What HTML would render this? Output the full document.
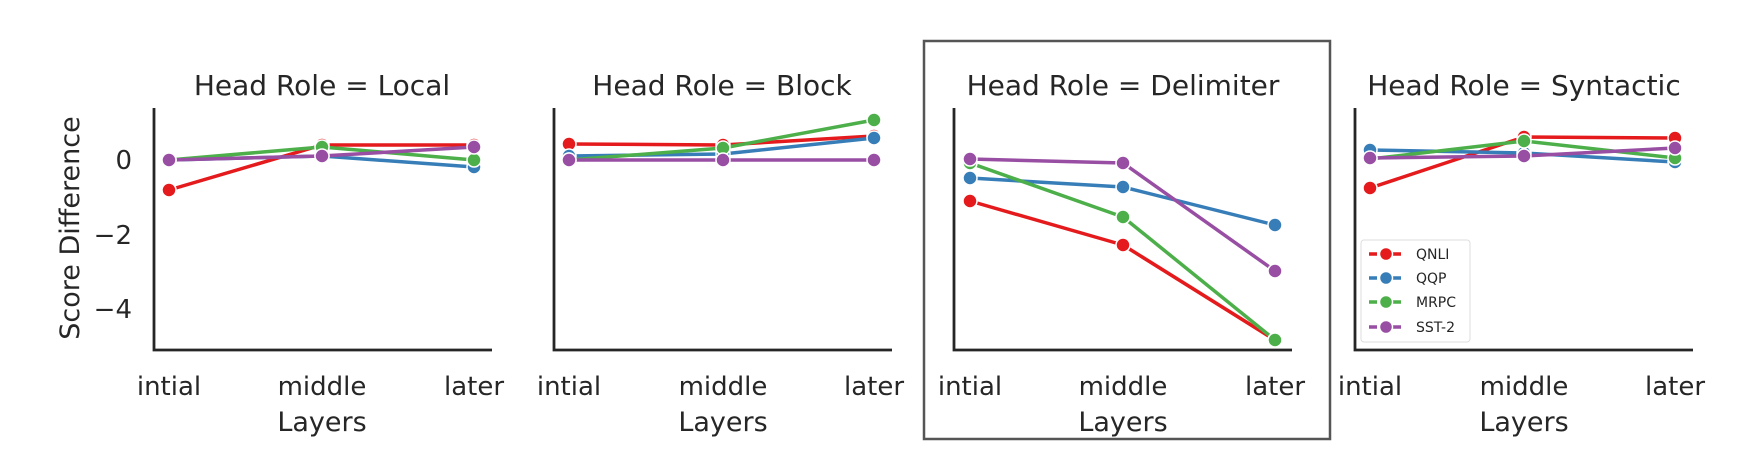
<!DOCTYPE html>
<html><head><meta charset="utf-8"><style>
html,body{margin:0;padding:0;background:#fff;}
svg text{font-family:"DejaVu Sans","Liberation Sans",sans-serif;fill:#262626;}
</style></head><body>
<svg width="1744" height="464" viewBox="0 0 1744 464" xmlns="http://www.w3.org/2000/svg">
<rect x="924" y="41" width="406" height="398" fill="none" stroke="#555" stroke-width="2.5"/>
<g font-size="28" text-anchor="middle">
<text x="322" y="95">Head Role = Local</text>
<text x="722" y="95">Head Role = Block</text>
<text x="1123" y="95">Head Role = Delimiter</text>
<text x="1524" y="95">Head Role = Syntactic</text>
</g>
<g stroke="#262626" stroke-width="2.8" fill="none">
<path d="M154 108V350H492"/>
<path d="M554 108V350H892"/>
<path d="M954 108V350H1292"/>
<path d="M1355 108V350H1693"/>
</g>
<g font-size="26" text-anchor="end">
<text x="132" y="169">0</text>
<text x="132" y="244">−2</text>
<text x="132" y="318">−4</text>
</g>
<text x="0" y="0" font-size="27" text-anchor="middle" transform="translate(79,228) rotate(-90)">Score Difference</text>
<g font-size="26" text-anchor="middle">
<text x="169" y="395">intial</text><text x="322" y="395">middle</text><text x="474" y="395">later</text>
<text x="569" y="395">intial</text><text x="723" y="395">middle</text><text x="874" y="395">later</text>
<text x="970" y="395">intial</text><text x="1123" y="395">middle</text><text x="1275" y="395">later</text>
<text x="1370" y="395">intial</text><text x="1524" y="395">middle</text><text x="1675" y="395">later</text>
</g>
<g font-size="27" text-anchor="middle">
<text x="322" y="431">Layers</text><text x="723" y="431">Layers</text><text x="1123" y="431">Layers</text><text x="1524" y="431">Layers</text>
</g>
<g stroke-width="3.5" fill="none" stroke-linejoin="round">
<polyline stroke="#e41a1c" points="169,190 322,145 474,145"/>
<polyline stroke="#377eb8" points="169,160 322,156 474,167"/>
<polyline stroke="#4daf4a" points="169,160 322,147 474,160"/>
<polyline stroke="#984ea3" points="169,160 322,156 474,147"/>
<polyline stroke="#e41a1c" points="569,144 723,145 874,136"/>
<polyline stroke="#377eb8" points="569,156 723,154 874,138"/>
<polyline stroke="#4daf4a" points="569,160 723,148 874,120"/>
<polyline stroke="#984ea3" points="569,160 723,160 874,160"/>
<polyline stroke="#e41a1c" points="970,201 1123,245 1275,340"/>
<polyline stroke="#377eb8" points="970,178 1123,187 1275,225"/>
<polyline stroke="#4daf4a" points="970,163 1123,217 1275,340"/>
<polyline stroke="#984ea3" points="970,159 1123,163 1275,271"/>
<polyline stroke="#e41a1c" points="1370,188 1524,137 1675,138"/>
<polyline stroke="#377eb8" points="1370,150 1524,153 1675,162"/>
<polyline stroke="#4daf4a" points="1370,159 1524,141 1675,158"/>
<polyline stroke="#984ea3" points="1370,158 1524,156 1675,148"/>
</g>
<g stroke="#fff" stroke-width="1.5">
<g fill="#e41a1c"><circle cx="169" cy="190" r="7"/><circle cx="322" cy="145" r="7"/><circle cx="474" cy="145" r="7"/>
<circle cx="569" cy="144" r="7"/><circle cx="723" cy="145" r="7"/><circle cx="874" cy="136" r="7"/>
<circle cx="970" cy="201" r="7"/><circle cx="1123" cy="245" r="7"/><circle cx="1275" cy="340" r="7"/>
<circle cx="1370" cy="188" r="7"/><circle cx="1524" cy="137" r="7"/><circle cx="1675" cy="138" r="7"/></g>
<g fill="#377eb8"><circle cx="169" cy="160" r="7"/><circle cx="322" cy="156" r="7"/><circle cx="474" cy="167" r="7"/>
<circle cx="569" cy="156" r="7"/><circle cx="723" cy="154" r="7"/><circle cx="874" cy="138" r="7"/>
<circle cx="970" cy="178" r="7"/><circle cx="1123" cy="187" r="7"/><circle cx="1275" cy="225" r="7"/>
<circle cx="1370" cy="150" r="7"/><circle cx="1524" cy="153" r="7"/><circle cx="1675" cy="162" r="7"/></g>
<g fill="#4daf4a"><circle cx="169" cy="160" r="7"/><circle cx="322" cy="147" r="7"/><circle cx="474" cy="160" r="7"/>
<circle cx="569" cy="160" r="7"/><circle cx="723" cy="148" r="7"/><circle cx="874" cy="120" r="7"/>
<circle cx="970" cy="163" r="7"/><circle cx="1123" cy="217" r="7"/><circle cx="1275" cy="340" r="7"/>
<circle cx="1370" cy="159" r="7"/><circle cx="1524" cy="141" r="7"/><circle cx="1675" cy="158" r="7"/></g>
<g fill="#984ea3"><circle cx="169" cy="160" r="7"/><circle cx="322" cy="156" r="7"/><circle cx="474" cy="147" r="7"/>
<circle cx="569" cy="160" r="7"/><circle cx="723" cy="160" r="7"/><circle cx="874" cy="160" r="7"/>
<circle cx="970" cy="159" r="7"/><circle cx="1123" cy="163" r="7"/><circle cx="1275" cy="271" r="7"/>
<circle cx="1370" cy="158" r="7"/><circle cx="1524" cy="156" r="7"/><circle cx="1675" cy="148" r="7"/></g>
</g>
<rect x="1361" y="240" width="109" height="102" rx="3" fill="#fff" stroke="#ddd" stroke-width="1"/>
<g stroke-width="3.5" stroke-dasharray="8,4">
<line x1="1369" y1="254" x2="1403" y2="254" stroke="#e41a1c"/>
<line x1="1369" y1="278" x2="1403" y2="278" stroke="#377eb8"/>
<line x1="1369" y1="302" x2="1403" y2="302" stroke="#4daf4a"/>
<line x1="1369" y1="327" x2="1403" y2="327" stroke="#984ea3"/>
</g>
<g stroke="#fff" stroke-width="1.5">
<circle cx="1386" cy="254" r="6.5" fill="#e41a1c"/>
<circle cx="1386" cy="278" r="6.5" fill="#377eb8"/>
<circle cx="1386" cy="302" r="6.5" fill="#4daf4a"/>
<circle cx="1386" cy="327" r="6.5" fill="#984ea3"/>
</g>
<g font-size="14">
<text x="1416" y="259">QNLI</text>
<text x="1416" y="283">QQP</text>
<text x="1416" y="307">MRPC</text>
<text x="1416" y="332">SST-2</text>
</g>
</svg>
</body></html>
